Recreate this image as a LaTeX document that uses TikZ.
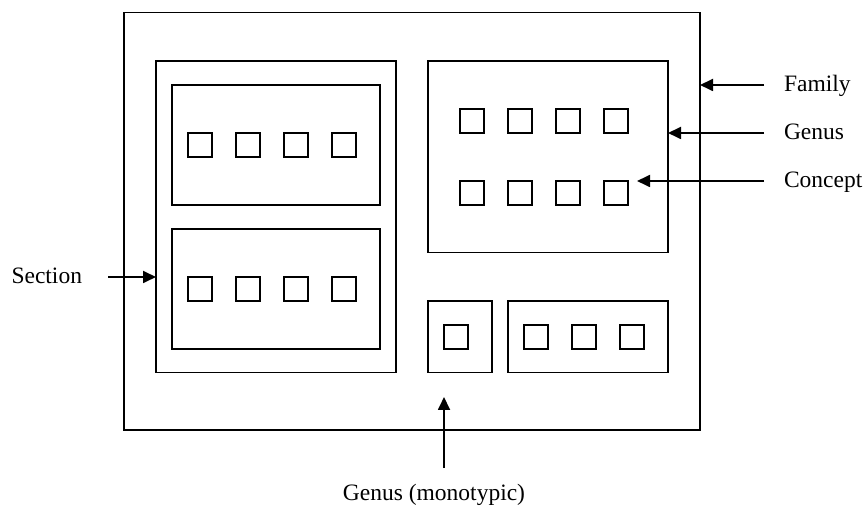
\documentclass[tikz,border=0pt]{standalone}
\usepackage{fontspec}
\setmainfont{Liberation Serif}
\usetikzlibrary{arrows.meta}

\begin{document}
\begin{tikzpicture}
    [   x=0.5pt, y=-0.5pt,
        every node/.style={inner sep=0pt, outer sep=0pt, font=\fontsize{11.75}{14}\selectfont},
        box/.style 2 args={draw=black, line width=0.9pt, minimum width=#1, minimum height=#2},
        cpt/.style={draw=black, line width=0.9pt, minimum size=12pt},
        lbl/.style={text height=1.5ex, text depth=0pt},
        arr/.style={-{Triangle[length=6.5pt,width=6pt]}, line width=0.9pt},
    ]
        \useasboundingbox (0,0) rectangle (865,506);

        % draw the boxes
        \node[box={288pt}{208.75pt}] (family) at (412,221.25) {};
        \node[box={120pt}{155.75pt}] (section) at (276,216.75) {};
        \node[box={104pt}{60pt}] (sec1) at (276,145) {};
        \node[box={104pt}{60pt}] (sec2) at (276,288.75) {};
        \node[box={120pt}{95.75pt}] (genus) at (548,156.75) {};
        \node[box={32pt}{35.75pt}] (mono) at (460,336.75) {};
        \node[box={80pt}{35.75pt}] (gen3) at (588,336.75) {};

        % draw the concepts
        \node[cpt] (a1) at (200,145) {};
        \node[cpt] (a2) at (248,145) {};
        \node[cpt] (a3) at (296,145) {};
        \node[cpt] (a4) at (344,145) {};
        \node[cpt] (b1) at (200,289) {};
        \node[cpt] (b2) at (248,289) {};
        \node[cpt] (b3) at (296,289) {};
        \node[cpt] (b4) at (344,289) {};
        \node[cpt] (g1) at (472,121) {};
        \node[cpt] (g2) at (520,121) {};
        \node[cpt] (g3) at (568,121) {};
        \node[cpt] (g4) at (616,121) {};
        \node[cpt] (g5) at (472,193) {};
        \node[cpt] (g6) at (520,193) {};
        \node[cpt] (g7) at (568,193) {};
        \node[cpt] (g8) at (616,193) {};
        \node[cpt] (m1) at (456,337) {};
        \node[cpt] (t1) at (536,337) {};
        \node[cpt] (t2) at (584,337) {};
        \node[cpt] (t3) at (632,337) {};

        % draw the labels
        \node[lbl, anchor=west] (famlbl) at (784,85) {Family};
        \node[lbl, anchor=west] (genlbl) at (784,133) {Genus};
        \node[lbl, anchor=west] (conlbl) at (784,181) {Concept};
        \node[lbl, anchor=east] (seclbl) at (82,277) {Section};
        \node[anchor=base] (monlbl) at (434,500) {Genus (monotypic)};
        \coordinate (monfoot) at (444,468);
        \coordinate (montip) at (444,397);

        % draw the arrows
        \draw[arr] ([xshift=-10pt]famlbl.west) -- (family.east |- famlbl.west);
        \draw[arr] ([xshift=-10pt]genlbl.west) -- (genus.east |- genlbl.west);
        \draw[arr] ([xshift=-10pt]conlbl.west) -- ([xshift=4.5pt]g8.north east);
        \draw[arr] ([xshift=13pt]seclbl.east) -- (section.west |- seclbl.east);
        \draw[arr] (monfoot) -- (montip);
    \end{tikzpicture}
\end{document}
